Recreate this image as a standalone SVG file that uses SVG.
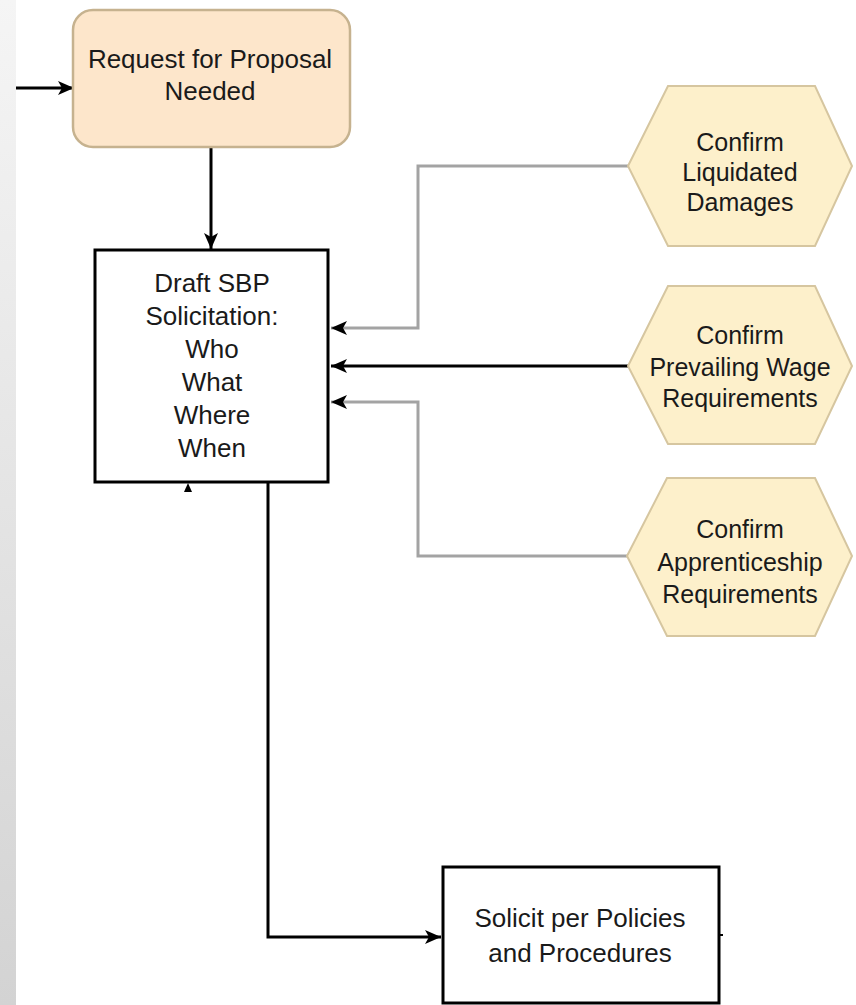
<svg xmlns="http://www.w3.org/2000/svg" width="856" height="1005" viewBox="0 0 856 1005">
  <style>
    text { font-family: "Liberation Sans", Arial, sans-serif; fill: #1a1a1a; text-anchor: middle; }
    .box-label { font-size: 26px; }
    .hex-label { font-size: 25px; }
    .task { fill: #ffffff; stroke: #000000; stroke-width: 3; }
    .event { fill: #fde6cb; stroke: #c6b28f; stroke-width: 2.5; }
    .check { fill: #fdf0cb; stroke: #d6c6a0; stroke-width: 2; }
    .flow { fill: none; stroke: #000000; stroke-width: 3; }
    .flow-grey { fill: none; stroke: #a3a3a3; stroke-width: 3; }
  </style>
  <defs>
    <linearGradient id="sidebar" x1="0" y1="0" x2="0" y2="1">
      <stop offset="0" stop-color="#f5f5f5"/>
      <stop offset="1" stop-color="#d3d3d3"/>
    </linearGradient>
    <marker id="head" markerWidth="16" markerHeight="14" refX="16" refY="7" orient="auto" markerUnits="userSpaceOnUse">
      <path d="M0,0 L16,7 L0,14 L4,7 Z" fill="#000000"/>
    </marker>
  </defs>

  <rect x="0" y="0" width="856" height="1005" fill="#ffffff"/>
  <rect x="0" y="0" width="16" height="1005" fill="url(#sidebar)"/>

  <!-- connectors -->
  <g id="connectors">
    <path class="flow" d="M16,88 L74,88" marker-end="url(#head)"/>
    <path class="flow" d="M211,148 L211,249" marker-end="url(#head)"/>
    <path class="flow-grey" d="M628,166 L418,166 L418,328 L331,328" marker-end="url(#head)"/>
    <path class="flow" d="M628,366 L331,366" marker-end="url(#head)"/>
    <path class="flow-grey" d="M627,556 L418,556 L418,402 L331,402" marker-end="url(#head)"/>
    <path class="flow" d="M268,483 L268,937 L441,937" marker-end="url(#head)"/>
    <path d="M188,483 L184,492 L192,492 Z" fill="#000000"/>
    <path d="M719,935 L723,935" stroke="#000000" stroke-width="2"/>
  </g>

  <g id="request-for-proposal">
    <rect class="event" x="73" y="10" width="277" height="137" rx="20" ry="20"/>
    <text class="box-label" x="210" y="68">Request for Proposal</text>
    <text class="box-label" x="210" y="100">Needed</text>
  </g>

  <g id="draft-solicitation">
    <rect class="task" x="95" y="250" width="233" height="232"/>
    <text class="box-label" x="212" y="292">Draft SBP</text>
    <text class="box-label" x="212" y="325">Solicitation:</text>
    <text class="box-label" x="212" y="358">Who</text>
    <text class="box-label" x="212" y="391">What</text>
    <text class="box-label" x="212" y="424">Where</text>
    <text class="box-label" x="212" y="457">When</text>
  </g>

  <g id="confirm-liquidated-damages">
    <polygon class="check" points="628,166 668,86 815,86 852,166 815,246 668,246"/>
    <text class="hex-label" x="740" y="151">Confirm</text>
    <text class="hex-label" x="740" y="181">Liquidated</text>
    <text class="hex-label" x="740" y="211">Damages</text>
  </g>

  <g id="confirm-prevailing-wage">
    <polygon class="check" points="628,366 668,286 815,286 852,366 815,444 668,444"/>
    <text class="hex-label" x="740" y="344">Confirm</text>
    <text class="hex-label" x="740" y="376">Prevailing Wage</text>
    <text class="hex-label" x="740" y="407">Requirements</text>
  </g>

  <g id="confirm-apprenticeship">
    <polygon class="check" points="627,556 667,478 815,478 852,556 815,636 667,636"/>
    <text class="hex-label" x="740" y="538">Confirm</text>
    <text class="hex-label" x="740" y="571">Apprenticeship</text>
    <text class="hex-label" x="740" y="603">Requirements</text>
  </g>

  <g id="solicit-per-policies">
    <rect class="task" x="443" y="867" width="276" height="136"/>
    <text class="box-label" x="580" y="927">Solicit per Policies</text>
    <text class="box-label" x="580" y="962">and Procedures</text>
  </g>
</svg>
